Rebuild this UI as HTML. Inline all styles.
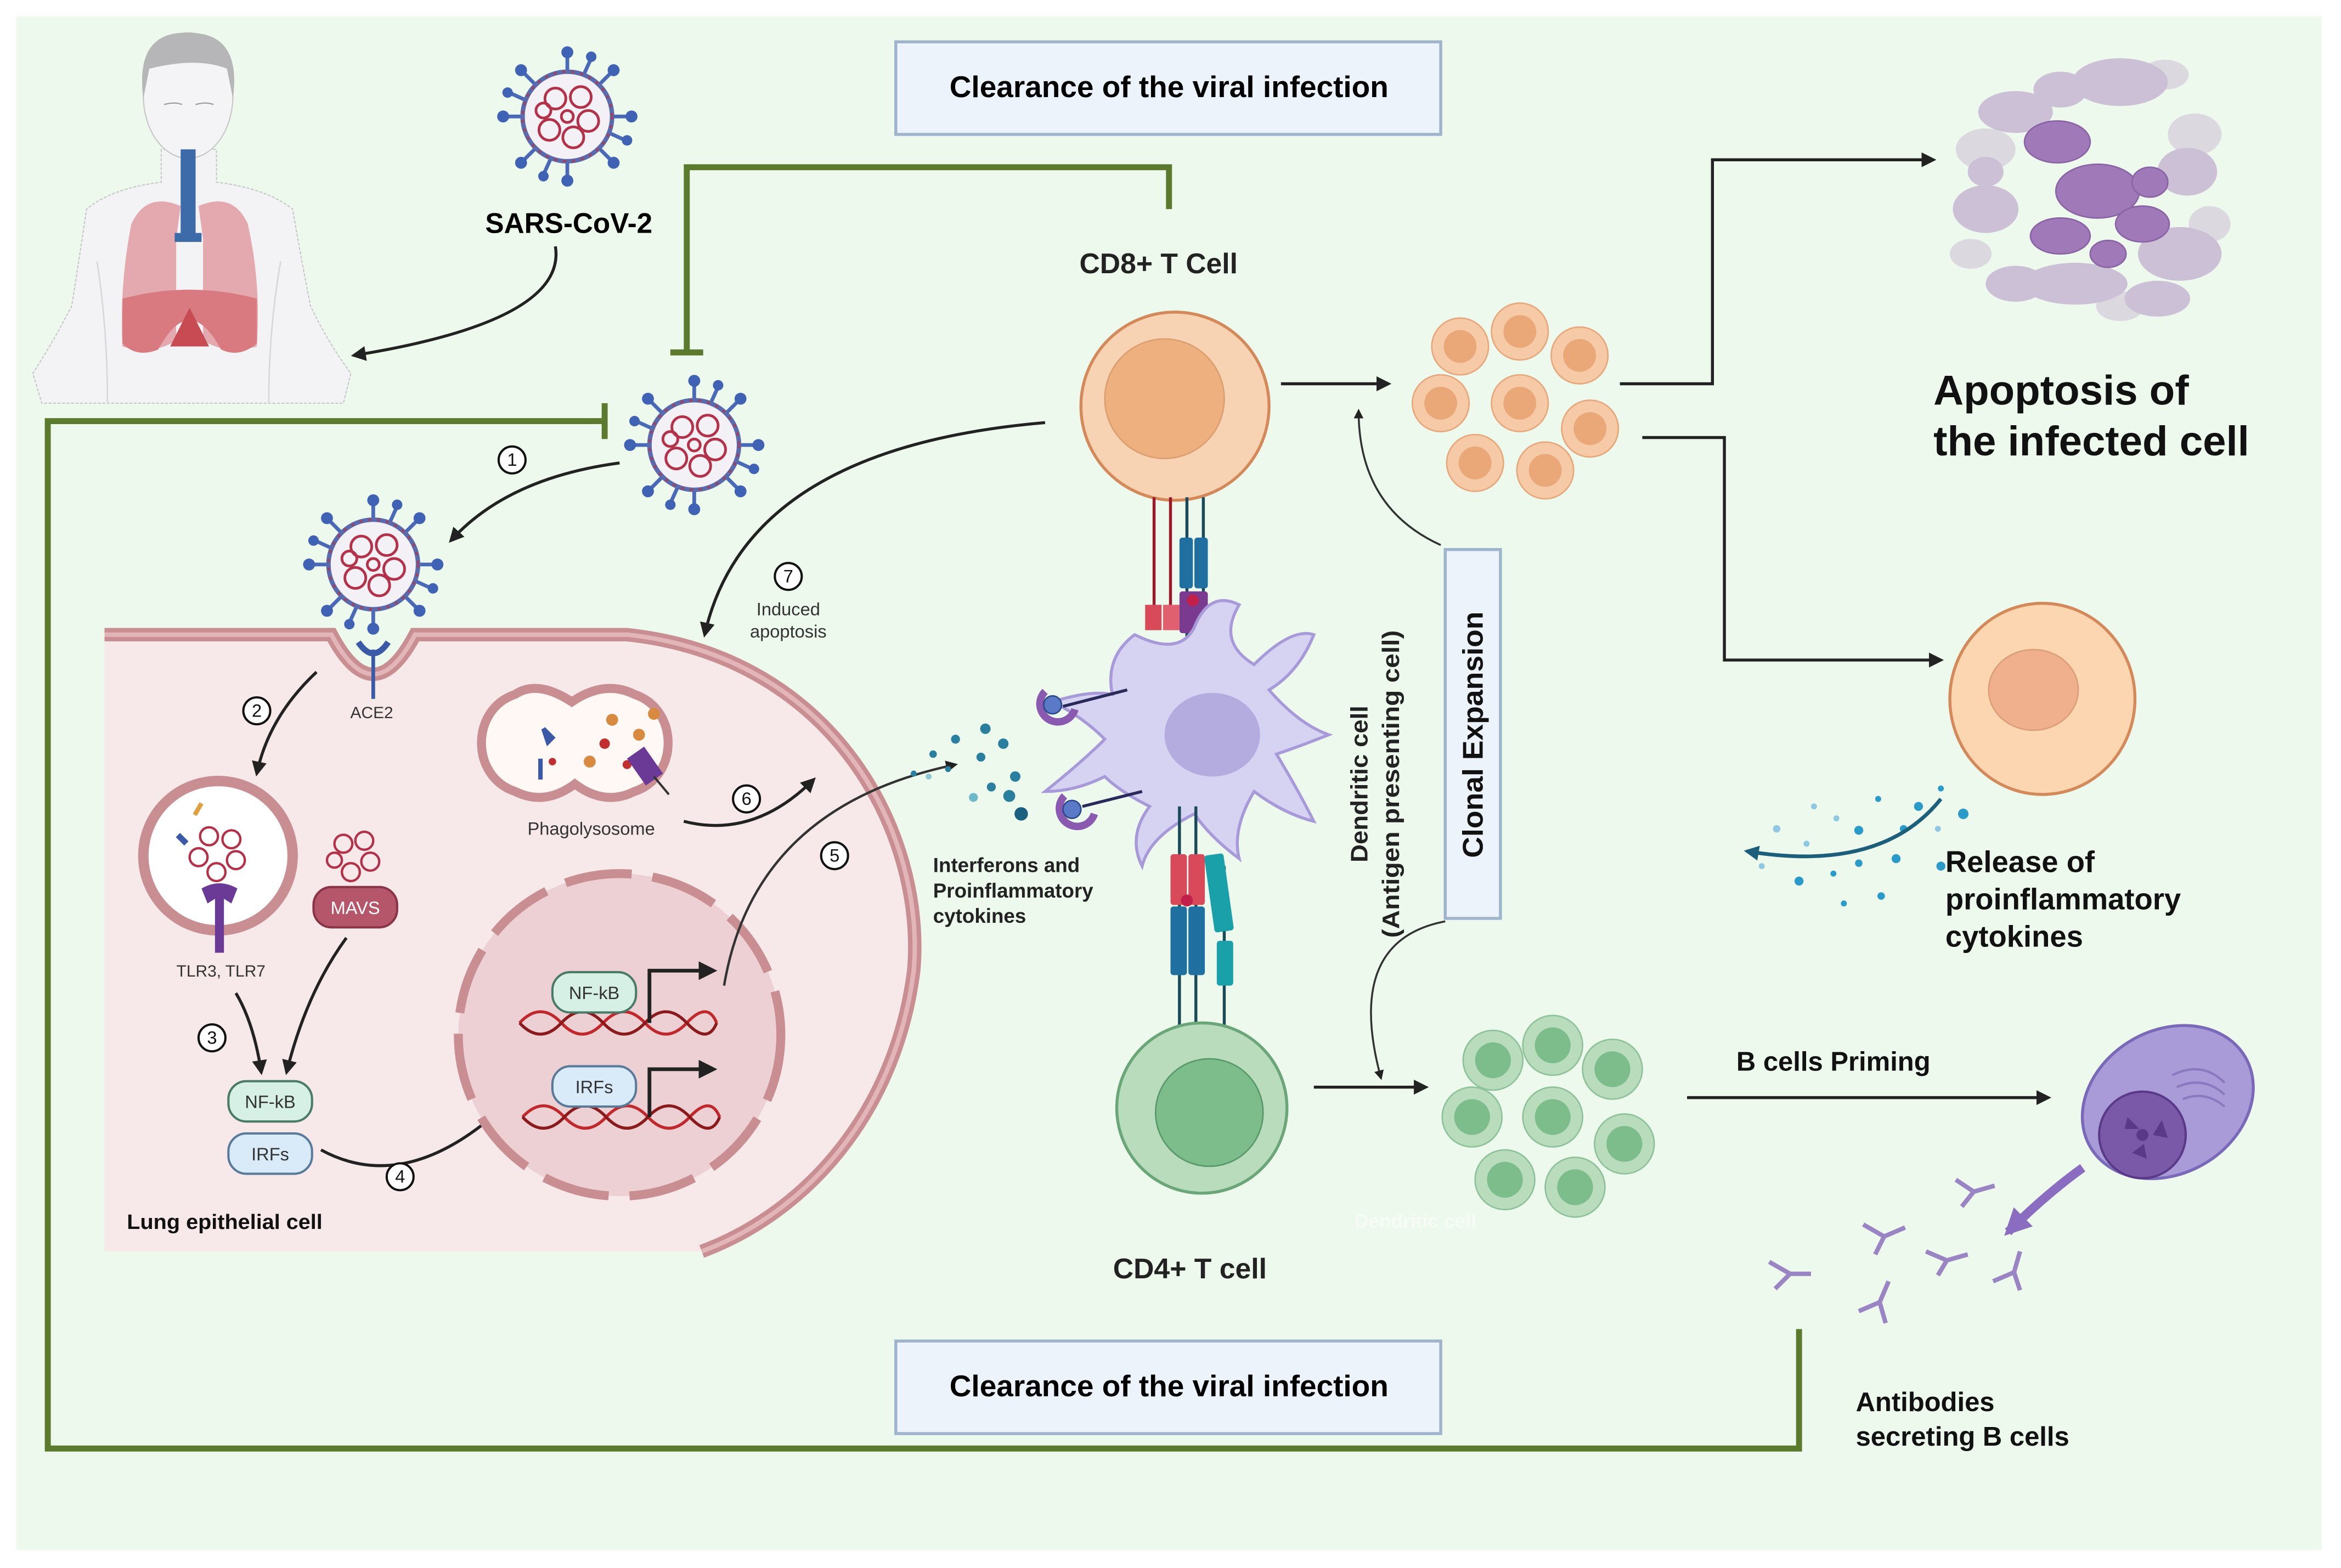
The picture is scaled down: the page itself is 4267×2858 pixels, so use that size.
<!DOCTYPE html>
<html><head><meta charset="utf-8"><style>
html,body{margin:0;padding:0;background:#fff;}
svg{display:block;}
text{font-family:"Liberation Sans",sans-serif;}
</style></head><body>
<svg width="4267" height="2858" viewBox="0 0 1568 1050" preserveAspectRatio="none" xmlns="http://www.w3.org/2000/svg">
<defs>
<marker id="ah" viewBox="0 0 10 10" refX="8" refY="5" markerWidth="5" markerHeight="5" orient="auto"><path d="M0,0 L10,5 L0,10 z" fill="#222"/></marker>
<marker id="aht" viewBox="0 0 10 10" refX="8" refY="5" markerWidth="4" markerHeight="4" orient="auto"><path d="M0,0 L10,5 L0,10 z" fill="#1d5f7a"/></marker>
<marker id="ahp" viewBox="0 0 10 10" refX="8" refY="5" markerWidth="3" markerHeight="3" orient="auto"><path d="M0,0 L10,5 L0,10 z" fill="#8a6cc0"/></marker>
<g id="virus">
 <g stroke="#4a6ab8" stroke-width="2.5">
  <line x1="0" y1="-30" x2="0" y2="-42"/><line x1="21" y1="-21" x2="30" y2="-30"/><line x1="30" y1="0" x2="42" y2="0"/><line x1="21" y1="21" x2="30" y2="30"/>
  <line x1="0" y1="30" x2="0" y2="42"/><line x1="-21" y1="21" x2="-30" y2="30"/><line x1="-30" y1="0" x2="-42" y2="0"/><line x1="-21" y1="-21" x2="-30" y2="-30"/>
  <line x1="11" y1="-28" x2="16" y2="-39"/><line x1="28" y1="11" x2="39" y2="16"/><line x1="-11" y1="28" x2="-16" y2="39"/><line x1="-28" y1="-11" x2="-39" y2="-16"/>
 </g>
 <g fill="#3f62b5">
  <circle cx="0" cy="-43" r="4"/><circle cx="31" cy="-31" r="4"/><circle cx="43" cy="0" r="4"/><circle cx="31" cy="31" r="4"/>
  <circle cx="0" cy="43" r="4"/><circle cx="-31" cy="31" r="4"/><circle cx="-43" cy="0" r="4"/><circle cx="-31" cy="-31" r="4"/>
  <circle cx="16" cy="-40" r="3.5"/><circle cx="40" cy="16" r="3.5"/><circle cx="-16" cy="40" r="3.5"/><circle cx="-40" cy="-16" r="3.5"/>
 </g>
 <circle r="30" fill="#f3f1f6" stroke="#5a6aac" stroke-width="3"/>
 <circle r="30" fill="none" stroke="#a3405a" stroke-width="1.5" stroke-dasharray="2 4"/>
 <g fill="none" stroke="#b3324a" stroke-width="1.8">
  <circle cx="-8" cy="-12" r="7"/><circle cx="9" cy="-13" r="7"/><circle cx="14" cy="3" r="7"/><circle cx="4" cy="14" r="7"/><circle cx="-12" cy="9" r="7"/><circle cx="-16" cy="-4" r="5"/><circle cx="0" cy="0" r="4"/>
 </g>
</g>
</defs>

<rect x="0" y="0" width="1568" height="1050" fill="#fff"/>
<rect x="11" y="11" width="1544" height="1027" fill="#eef9ee"/>

<!-- human -->
<path d="M108,100 L108,122 Q75,126 58,140 Q52,180 48,205 Q35,230 22,250 L28,270 L230,270 L235,250 Q220,230 208,205 Q202,175 196,140 Q178,126 145,122 L145,100 Z" fill="#f3f2f5" stroke="#c8c8ca" stroke-width="0.8" stroke-dasharray="2 1"/>
<path d="M65,175 Q72,220 72,270 M188,175 Q180,220 180,270" fill="none" stroke="#d8d8da" stroke-width="1"/>
<ellipse cx="126" cy="64" rx="30" ry="42" fill="#f4f3f5" stroke="#c8c8ca" stroke-width="0.8"/>
<path d="M96,66 Q90,20 127,22 Q162,22 156,66 L152,46 Q132,38 100,46 Z" fill="#b6b6b8"/>
<path d="M110,70 q7,-2 12,0 M131,70 q7,-2 12,0" stroke="#999" stroke-width="0.8" fill="none"/>
<path d="M121,138 Q98,128 88,150 Q80,190 82,232 Q102,238 118,228 L118,160 Z" fill="#e3a9ae"/>
<path d="M133,138 Q156,128 166,150 Q175,190 172,232 Q152,238 136,228 L136,160 Z" fill="#e3a9ae"/>
<path d="M82,200 Q127,188 172,200 L172,230 Q160,240 148,234 Q127,195 106,234 Q92,240 82,230 Z" fill="#d97a80"/>
<path d="M114,232 L127,206 L140,232 Z" fill="#c84a52"/>
<rect x="121" y="100" width="10" height="60" fill="#3d6aa8"/>
<rect x="117" y="156" width="18" height="6" fill="#3d6aa8"/>

<!-- SARS-CoV-2 -->
<use href="#virus" x="380" y="78"/>
<text x="381" y="156" font-size="19" font-weight="bold" text-anchor="middle" textLength="112" lengthAdjust="spacingAndGlyphs">SARS-CoV-2</text>
<path d="M372,165 Q380,215 237,238" fill="none" stroke="#222" stroke-width="2" marker-end="url(#ah)"/>

<rect x="600" y="28" width="365" height="62" fill="#edf3fb" stroke="#9fb3cc" stroke-width="2"/>
<text x="783" y="65" font-size="20" font-weight="bold" text-anchor="middle" textLength="294" lengthAdjust="spacingAndGlyphs">Clearance of the viral infection</text>

<g stroke="#5c7a2e" stroke-width="4" fill="none">
 <path d="M783,140 L783,112 L460,112 L460,236"/>
 <line x1="449" y1="236" x2="471" y2="236"/>
 <path d="M405,282 L32,282 L32,970 L1205,970 L1205,890"/>
 <line x1="405" y1="270" x2="405" y2="294"/>
</g>

<use href="#virus" x="465" y="298"/>
<use href="#virus" x="250" y="378"/>

<path d="M415,310 Q340,320 302,362" fill="none" stroke="#222" stroke-width="2" marker-end="url(#ah)"/>

<!-- lung cell -->
<path d="M70,425 L222,425 Q250,478 278,425 L420,425 C560,440 620,560 612,650 C600,745 540,812 470,838 L70,838 Z" fill="#f7e8ea"/>
<path d="M70,425 L222,425 Q250,478 278,425 L420,425 C560,440 620,560 612,650 C600,745 540,812 470,838" fill="none" stroke="#c98e92" stroke-width="9"/>
<path d="M70,425 L222,425 Q250,478 278,425 L420,425 C560,440 620,560 612,650 C600,745 540,812 470,838" fill="none" stroke="#e2b6b8" stroke-width="3"/>
<line x1="250" y1="435" x2="250" y2="468" stroke="#3a5aa8" stroke-width="2.5"/>
<path d="M240,430 Q250,445 260,430" fill="none" stroke="#3a5aa8" stroke-width="4"/>
<text x="249" y="481" font-size="11" text-anchor="middle" fill="#333">ACE2</text>

<path d="M212,450 Q180,480 172,518" fill="none" stroke="#222" stroke-width="2" marker-end="url(#ah)"/>
<circle cx="146" cy="573" r="50" fill="#fff" stroke="#c98e92" stroke-width="7"/>
<g fill="none" stroke="#b3324a" stroke-width="1.6">
 <circle cx="140" cy="560" r="6"/><circle cx="155" cy="562" r="6"/><circle cx="158" cy="576" r="6"/><circle cx="145" cy="584" r="6"/><circle cx="133" cy="574" r="6"/>
</g>
<path d="M135,595 Q147,588 159,595 L155,605 L147,600 L139,605 Z" fill="#6a3a96"/>
<rect x="144" y="598" width="6" height="40" fill="#6a3a96"/>
<rect x="118" y="560" width="8" height="4" fill="#3a5aa8" transform="rotate(45 122 562)"/>
<rect x="128" y="541" width="9" height="3" fill="#e0a040" transform="rotate(-60 132 542)"/>
<text x="148" y="654" font-size="11" text-anchor="middle" fill="#333">TLR3, TLR7</text>

<g fill="none" stroke="#b3324a" stroke-width="1.6">
 <circle cx="230" cy="565" r="6"/><circle cx="244" cy="563" r="6"/><circle cx="248" cy="577" r="6"/><circle cx="235" cy="584" r="6"/><circle cx="224" cy="576" r="5"/>
</g>
<rect x="210" y="594" width="56" height="27" rx="12" fill="#b5566a" stroke="#8a3448" stroke-width="1.5"/>
<text x="238" y="612" font-size="12" text-anchor="middle" fill="#fff">MAVS</text>

<path d="M158,665 Q170,685 175,718" fill="none" stroke="#222" stroke-width="2" marker-end="url(#ah)"/>
<path d="M232,628 Q205,665 192,718" fill="none" stroke="#222" stroke-width="2" marker-end="url(#ah)"/>

<rect x="153" y="724" width="56" height="27" rx="12" fill="#d6f0e6" stroke="#4a7a68" stroke-width="1.5"/>
<text x="181" y="742" font-size="12" text-anchor="middle" fill="#333">NF-kB</text>
<rect x="153" y="759" width="56" height="27" rx="12" fill="#d9ebf8" stroke="#5a7a9a" stroke-width="1.5"/>
<text x="181" y="777" font-size="12" text-anchor="middle" fill="#333">IRFs</text>

<path d="M215,770 Q270,800 333,745" fill="none" stroke="#222" stroke-width="2" marker-end="url(#ah)"/>

<circle cx="415" cy="693" r="108" fill="#ecd0d3"/>
<circle cx="415" cy="693" r="108" fill="none" stroke="#c98e92" stroke-width="6" stroke-dasharray="45 14"/>
<g stroke="#c0282c" stroke-width="2" fill="none">
 <path d="M348,685 Q362,670 376,685 T404,685 T432,685 T460,685 T480,685"/>
 <path d="M348,685 Q362,700 376,685 T404,685 T432,685 T460,685 T480,685" stroke="#8a1a1c"/>
 <path d="M350,748 Q364,733 378,748 T406,748 T434,748 T462,748 T482,748"/>
 <path d="M350,748 Q364,763 378,748 T406,748 T434,748 T462,748 T482,748" stroke="#8a1a1c"/>
</g>
<rect x="370" y="651" width="56" height="27" rx="12" fill="#d6f0e6" stroke="#4a7a68" stroke-width="1.5"/>
<text x="398" y="669" font-size="12" text-anchor="middle" fill="#333">NF-kB</text>
<rect x="370" y="714" width="56" height="27" rx="12" fill="#d9ebf8" stroke="#5a7a9a" stroke-width="1.5"/>
<text x="398" y="732" font-size="12" text-anchor="middle" fill="#333">IRFs</text>
<path d="M435,685 L435,650 L478,650" fill="none" stroke="#222" stroke-width="2.5" marker-end="url(#ah)"/>
<path d="M435,748 L435,716 L478,716" fill="none" stroke="#222" stroke-width="2.5" marker-end="url(#ah)"/>

<path d="M383,470 Q360,455 345,465 C315,475 315,520 345,530 Q365,540 385,525 Q405,540 425,530 C455,520 455,475 425,465 Q405,455 383,470 Z" fill="#fff8f4" stroke="#c98e92" stroke-width="6"/>
<g fill="#d88a40"><circle cx="410" cy="482" r="4"/><circle cx="428" cy="492" r="4"/><circle cx="395" cy="510" r="4"/><circle cx="438" cy="478" r="4"/></g>
<g fill="#c03030"><circle cx="405" cy="498" r="3.5"/><circle cx="420" cy="512" r="3"/><circle cx="370" cy="510" r="2.5"/></g>
<rect x="425" y="502" width="14" height="22" fill="#6a3a96" transform="rotate(-35 432 513)"/>
<line x1="438" y1="520" x2="448" y2="532" stroke="#333" stroke-width="1.5"/>
<path d="M364,488 l6,6 l-3,3 z M362,508 l0,14" stroke="#3a5aa8" stroke-width="3" fill="#3a5aa8"/>
<text x="396" y="559" font-size="12" text-anchor="middle" fill="#333">Phagolysosome</text>

<path d="M458,550 Q505,562 545,522" fill="none" stroke="#222" stroke-width="2" marker-end="url(#ah)"/>
<path d="M485,660 Q505,540 640,512" fill="none" stroke="#333" stroke-width="1.6" marker-end="url(#ah)"/>

<g font-size="12" text-anchor="middle" fill="#111">
 <circle cx="343" cy="308" r="9" fill="#fff" stroke="#111" stroke-width="1.5"/><text x="343" y="312">1</text>
 <circle cx="172" cy="476" r="9" fill="#fff" stroke="#111" stroke-width="1.5"/><text x="172" y="480">2</text>
 <circle cx="142" cy="695" r="9" fill="#fff" stroke="#111" stroke-width="1.5"/><text x="142" y="699">3</text>
 <circle cx="268" cy="788" r="9" fill="#fff" stroke="#111" stroke-width="1.5"/><text x="268" y="792">4</text>
 <circle cx="559" cy="573" r="9" fill="#fff" stroke="#111" stroke-width="1.5"/><text x="559" y="577">5</text>
 <circle cx="500" cy="535" r="9" fill="#fff" stroke="#111" stroke-width="1.5"/><text x="500" y="539">6</text>
 <circle cx="528" cy="386" r="9" fill="#fff" stroke="#111" stroke-width="1.5"/><text x="528" y="390">7</text>
</g>
<text x="528" y="412" font-size="12" text-anchor="middle" fill="#333">Induced</text>
<text x="528" y="427" font-size="12" text-anchor="middle" fill="#333">apoptosis</text>
<path d="M700,283 Q500,300 472,425" fill="none" stroke="#222" stroke-width="2" marker-end="url(#ah)"/>
<text x="85" y="823" font-size="14" font-weight="bold" fill="#111" textLength="131" lengthAdjust="spacingAndGlyphs">Lung epithelial cell</text>

<g fill="#2a7f9e">
 <circle cx="612" cy="518" r="2"/><circle cx="625" cy="505" r="2.5"/><circle cx="640" cy="495" r="3"/><circle cx="635" cy="515" r="2"/><circle cx="660" cy="488" r="3.5"/><circle cx="672" cy="498" r="3.5"/><circle cx="657" cy="507" r="3"/><circle cx="680" cy="520" r="3.5"/><circle cx="664" cy="527" r="3"/><circle cx="676" cy="533" r="4"/><circle cx="684" cy="545" r="4.5" fill="#1a5f7e"/><circle cx="652" cy="534" r="3" fill="#6fb8c8"/><circle cx="622" cy="520" r="2" fill="#8fc8d4"/>
</g>
<text x="625" y="584" font-size="13.5" font-weight="bold" fill="#222">Interferons and</text>
<text x="625" y="601" font-size="13.5" font-weight="bold" fill="#222">Proinflammatory</text>
<text x="625" y="618" font-size="13.5" font-weight="bold" fill="#222">cytokines</text>

<text x="776" y="183" font-size="19" font-weight="bold" text-anchor="middle" fill="#222" textLength="106" lengthAdjust="spacingAndGlyphs">CD8+ T Cell</text>
<circle cx="787" cy="272" r="63" fill="#f7d3b3" stroke="#d4895a" stroke-width="2"/>
<circle cx="780" cy="267" r="40" fill="#eeb07e" stroke="#dca070" stroke-width="1"/>
<g stroke-width="2">
 <line x1="773" y1="333" x2="773" y2="410" stroke="#9a1a2a"/><line x1="784" y1="333" x2="784" y2="410" stroke="#9a1a2a"/>
 <line x1="795" y1="333" x2="795" y2="460" stroke="#1a4a5a"/><line x1="806" y1="333" x2="806" y2="400" stroke="#1a4a5a"/>
</g>
<rect x="767" y="405" width="11" height="17" fill="#d84a5a"/><rect x="779" y="405" width="11" height="17" fill="#e06070"/>
<rect x="790" y="360" width="9" height="34" rx="2" fill="#1f6fa0"/><rect x="800" y="360" width="9" height="34" rx="2" fill="#1f6fa0"/>
<rect x="790" y="396" width="19" height="28" rx="2" fill="#7a3a90"/>
<circle cx="799" cy="402" r="4" fill="#c0204a"/>

<path d="M760,425 Q790,440 800,420 Q810,395 830,405 Q815,430 840,445 Q865,420 880,425 Q870,450 850,462 Q870,485 890,492 Q870,500 855,505 Q870,530 880,550 Q860,545 840,530 Q825,555 830,575 Q810,560 800,545 Q770,560 765,580 Q755,560 770,540 Q750,530 740,520 Q720,530 700,530 Q725,510 740,495 Q725,480 705,470 Q730,462 745,465 Q740,440 760,425 Z" fill="#d6d2f2" stroke="#a89ad8" stroke-width="2"/>
<ellipse cx="812" cy="492" rx="32" ry="28" fill="#b4acde"/>
<line x1="712" y1="473" x2="755" y2="462" stroke="#2a2a5a" stroke-width="2"/>
<line x1="725" y1="540" x2="765" y2="530" stroke="#2a2a5a" stroke-width="2"/>
<path d="M700,463 a12,12 0 1 0 20,12" fill="none" stroke="#8a5ab0" stroke-width="5"/><circle cx="705" cy="472" r="6" fill="#5a7ac8" stroke="#2a4a8a"/>
<path d="M713,533 a12,12 0 1 0 20,12" fill="none" stroke="#8a5ab0" stroke-width="5"/><circle cx="718" cy="542" r="6" fill="#5a7ac8" stroke="#2a4a8a"/>

<g stroke-width="2">
 <line x1="790" y1="540" x2="790" y2="690" stroke="#1a4a5a"/><line x1="801" y1="540" x2="801" y2="690" stroke="#1a4a5a"/>
 <line x1="820" y1="580" x2="820" y2="690" stroke="#1a4a5a"/>
</g>
<rect x="784" y="572" width="11" height="34" rx="2" fill="#d84a5a"/><rect x="796" y="572" width="11" height="34" rx="2" fill="#d84a5a"/>
<circle cx="795" cy="603" r="4" fill="#c0204a"/>
<rect x="784" y="607" width="11" height="46" rx="2" fill="#1f6fa0"/><rect x="796" y="607" width="11" height="46" rx="2" fill="#1f6fa0"/>
<rect x="810" y="572" width="13" height="52" rx="2" fill="#1aa0a8" transform="rotate(-8 816 598)"/>
<rect x="815" y="630" width="11" height="30" rx="2" fill="#1aa0a8"/>

<circle cx="805" cy="742" r="57" fill="#b9dcbd" stroke="#6aa678" stroke-width="2"/>
<circle cx="810" cy="745" r="36" fill="#7dbd8c" stroke="#5a9a6a" stroke-width="1"/>
<text x="797" y="856" font-size="19" font-weight="bold" text-anchor="middle" fill="#222" textLength="103" lengthAdjust="spacingAndGlyphs">CD4+ T cell</text>
<text x="948" y="822" font-size="13" font-weight="bold" text-anchor="middle" fill="#f6fbf6">Dendritic cell</text>

<text transform="translate(916,525) rotate(-90)" font-size="16" font-weight="bold" text-anchor="middle" fill="#222" textLength="105" lengthAdjust="spacingAndGlyphs">Dendritic cell</text>
<text transform="translate(937,525) rotate(-90)" font-size="16" font-weight="bold" text-anchor="middle" fill="#222" textLength="206" lengthAdjust="spacingAndGlyphs">(Antigen presenting cell)</text>

<rect x="968" y="368" width="37" height="247" fill="#edf3fb" stroke="#9fb3cc" stroke-width="2"/>
<text transform="translate(993,492) rotate(-90)" font-size="19" font-weight="bold" text-anchor="middle" fill="#111" textLength="165" lengthAdjust="spacingAndGlyphs">Clonal Expansion</text>

<line x1="858" y1="257" x2="930" y2="257" stroke="#222" stroke-width="2" marker-end="url(#ah)"/>
<path d="M965,365 Q910,340 910,275" fill="none" stroke="#333" stroke-width="1.3" marker-end="url(#ah)"/>
<line x1="880" y1="728" x2="955" y2="728" stroke="#222" stroke-width="2" marker-end="url(#ah)"/>
<path d="M968,617 Q900,630 925,722" fill="none" stroke="#333" stroke-width="1.3" marker-end="url(#ah)"/>

<g fill="#f6caa6" stroke="#e6a87c" stroke-width="1">
 <circle cx="978" cy="232" r="19"/><circle cx="1018" cy="222" r="19"/><circle cx="1058" cy="238" r="19"/><circle cx="965" cy="270" r="19"/><circle cx="1018" cy="270" r="19"/><circle cx="1065" cy="287" r="19"/><circle cx="988" cy="310" r="19"/><circle cx="1035" cy="315" r="19"/>
</g>
<g fill="#eaa878">
 <circle cx="978" cy="232" r="11"/><circle cx="1018" cy="222" r="11"/><circle cx="1058" cy="238" r="11"/><circle cx="965" cy="270" r="11"/><circle cx="1018" cy="270" r="11"/><circle cx="1065" cy="287" r="11"/><circle cx="988" cy="310" r="11"/><circle cx="1035" cy="315" r="11"/>
</g>
<g fill="#b9dcbd" stroke="#8ec29a" stroke-width="1">
 <circle cx="1000" cy="710" r="20"/><circle cx="1040" cy="700" r="20"/><circle cx="1080" cy="716" r="20"/><circle cx="986" cy="748" r="20"/><circle cx="1040" cy="748" r="20"/><circle cx="1088" cy="766" r="20"/><circle cx="1008" cy="790" r="20"/><circle cx="1055" cy="795" r="20"/>
</g>
<g fill="#7dbd8c">
 <circle cx="1000" cy="710" r="12"/><circle cx="1040" cy="700" r="12"/><circle cx="1080" cy="716" r="12"/><circle cx="986" cy="748" r="12"/><circle cx="1040" cy="748" r="12"/><circle cx="1088" cy="766" r="12"/><circle cx="1008" cy="790" r="12"/><circle cx="1055" cy="795" r="12"/>
</g>

<path d="M1085,257 L1147,257 L1147,107 L1295,107" fill="none" stroke="#222" stroke-width="2" marker-end="url(#ah)"/>
<path d="M1100,293 L1155,293 L1155,442 L1300,442" fill="none" stroke="#222" stroke-width="2" marker-end="url(#ah)"/>

<g fill="#dcd8e0">
 <ellipse cx="1330" cy="100" rx="20" ry="14"/><ellipse cx="1470" cy="90" rx="18" ry="14"/><ellipse cx="1480" cy="150" rx="14" ry="12"/><ellipse cx="1420" cy="205" rx="16" ry="10"/><ellipse cx="1320" cy="170" rx="14" ry="10"/><ellipse cx="1450" cy="50" rx="16" ry="10"/>
</g>
<g fill="#cbc0d6">
 <ellipse cx="1350" cy="75" rx="25" ry="14"/><ellipse cx="1420" cy="55" rx="32" ry="16"/><ellipse cx="1330" cy="140" rx="22" ry="16"/><ellipse cx="1460" cy="170" rx="28" ry="18"/><ellipse cx="1390" cy="190" rx="35" ry="14"/><ellipse cx="1350" cy="190" rx="20" ry="12"/><ellipse cx="1445" cy="200" rx="22" ry="12"/><ellipse cx="1465" cy="115" rx="20" ry="16"/><ellipse cx="1380" cy="60" rx="18" ry="12"/><ellipse cx="1330" cy="115" rx="12" ry="10"/>
</g>
<g fill="#a07ab8" stroke="#8a64a4" stroke-width="1">
 <ellipse cx="1378" cy="95" rx="22" ry="14"/><ellipse cx="1405" cy="128" rx="28" ry="18"/><ellipse cx="1380" cy="158" rx="20" ry="12"/><ellipse cx="1435" cy="150" rx="18" ry="12"/><ellipse cx="1440" cy="122" rx="12" ry="10"/><ellipse cx="1412" cy="170" rx="12" ry="9"/>
</g>
<text x="1295" y="271" font-size="28" font-weight="bold" fill="#111">Apoptosis of</text>
<text x="1295" y="305" font-size="28" font-weight="bold" fill="#111">the infected cell</text>

<ellipse cx="1368" cy="468" rx="62" ry="64" fill="#fbd6b0" stroke="#d4895a" stroke-width="2"/>
<ellipse cx="1362" cy="462" rx="30" ry="27" fill="#f0b08e" stroke="#dca078" stroke-width="1"/>
<g fill="#2a9ac8">
 <circle cx="1300" cy="528" r="2"/><circle cx="1285" cy="540" r="3"/><circle cx="1258" cy="535" r="2"/><circle cx="1315" cy="545" r="3.5"/><circle cx="1245" cy="556" r="3"/><circle cx="1230" cy="548" r="2" fill="#8fc8e0"/><circle cx="1275" cy="555" r="2.5"/><circle cx="1215" cy="540" r="2" fill="#8fc8e0"/><circle cx="1298" cy="555" r="2" fill="#8fc8e0"/><circle cx="1190" cy="555" r="2.5" fill="#8fc8e0"/><circle cx="1210" cy="565" r="2" fill="#8fc8e0"/><circle cx="1245" cy="578" r="2.5"/><circle cx="1270" cy="575" r="3"/><circle cx="1228" cy="585" r="2"/><circle cx="1205" cy="590" r="3"/><circle cx="1235" cy="605" r="2"/><circle cx="1260" cy="600" r="2.5"/><circle cx="1180" cy="580" r="2" fill="#8fc8e0"/><circle cx="1300" cy="580" r="3"/>
</g>
<path d="M1300,535 Q1260,585 1170,570" fill="none" stroke="#1d5f7a" stroke-width="2.5" marker-end="url(#aht)"/>
<text x="1303" y="584" font-size="20" font-weight="bold" fill="#111">Release of</text>
<text x="1303" y="609" font-size="20" font-weight="bold" fill="#111">proinflammatory</text>
<text x="1303" y="634" font-size="20" font-weight="bold" fill="#111">cytokines</text>

<text x="1163" y="717" font-size="18" font-weight="bold" fill="#111">B cells Priming</text>
<line x1="1130" y1="735" x2="1372" y2="735" stroke="#222" stroke-width="2" marker-end="url(#ah)"/>
<ellipse cx="1452" cy="738" rx="60" ry="48" fill="#a99ad8" stroke="#7a68b8" stroke-width="2" transform="rotate(-30 1452 738)"/>
<circle cx="1435" cy="760" r="29" fill="#7a5aa8" stroke="#5a3a88" stroke-width="1.5"/>
<g fill="#5a3a88"><circle cx="1435" cy="760" r="4"/><path d="M1425,748 l8,8 l-10,0 z"/><path d="M1448,750 l-6,10 l10,2 z"/><path d="M1428,772 l8,-6 l2,10 z"/></g>
<g fill="none" stroke="#8a78c0" stroke-width="1.5"><path d="M1455,720 q20,-10 35,5"/><path d="M1458,728 q18,-8 32,5"/><path d="M1462,736 q15,-6 28,5"/></g>
<path d="M1395,782 Q1370,800 1345,825" fill="none" stroke="#8a6cc0" stroke-width="6" marker-end="url(#ahp)"/>
<g stroke="#9a84c4" stroke-width="3" fill="none">
 <path d="M1310,790 l12,8 l14,-4 M1322,798 l-8,10"/>
 <path d="M1248,820 l14,8 l14,-6 M1262,828 l-6,12"/>
 <path d="M1290,838 l14,6 l14,-4 M1304,844 l-6,10"/>
 <path d="M1335,858 l14,-6 l4,-14 M1349,852 l4,12"/>
 <path d="M1185,845 l14,8 l14,0 M1199,853 l-10,10"/>
 <path d="M1245,878 l14,-6 l6,-14 M1259,872 l4,14"/>
</g>
<text x="1243" y="945" font-size="18" font-weight="bold" fill="#111">Antibodies</text>
<text x="1243" y="968" font-size="18" font-weight="bold" fill="#111">secreting B cells</text>

<rect x="600" y="898" width="365" height="62" fill="#edf3fb" stroke="#9fb3cc" stroke-width="2"/>
<text x="783" y="935" font-size="20" font-weight="bold" text-anchor="middle" textLength="294" lengthAdjust="spacingAndGlyphs">Clearance of the viral infection</text>
</svg>
</body></html>
